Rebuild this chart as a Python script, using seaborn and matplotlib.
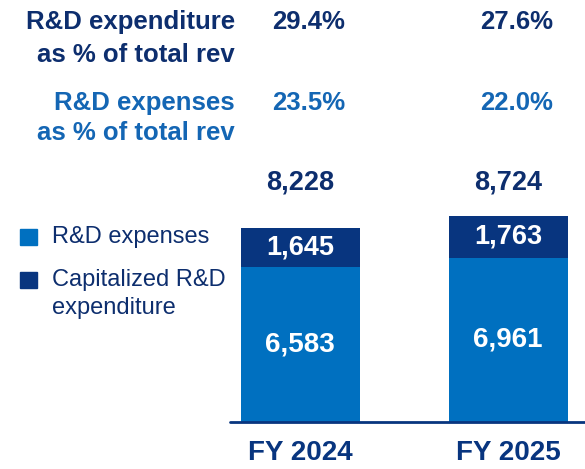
import matplotlib.pyplot as plt
import seaborn as sns
import pandas as pd

years = ['FY 2024', 'FY 2025']
rd_expenses = [6583, 6961]
capitalized = [1645, 1763]
totals = [8228, 8724]
expenditure_pct = ['29.4%', '27.6%']
expenses_pct = ['23.5%', '22.0%']

LIGHT = '#0070C0'
DARK = '#08357F'
NAVY_TXT = '#0D2E6E'
BLUE_TXT = '#1466B4'

sns.set_style('white')
plt.rcParams['font.family'] = ['Liberation Sans', 'DejaVu Sans']

df = pd.DataFrame({'year': years, 'expenses': rd_expenses, 'total': totals})

fig = plt.figure(figsize=(5.85, 4.69), dpi=100)
ax = fig.add_axes([230 / 585, 1 - 422 / 469, 355 / 585, 262 / 469])

bw = 0.572
sns.barplot(data=df, x='year', y='total', color=DARK, width=bw, ax=ax,
            saturation=1, linewidth=0)
sns.barplot(data=df, x='year', y='expenses', color=LIGHT, width=bw, ax=ax,
            saturation=1, linewidth=0)

ax.set_xlim(-0.337, 1.370)
ax.set_ylim(0, 11100)
ax.set_axis_off()
ax.axhline(0, color=DARK, lw=2, clip_on=False)

for i in range(len(years)):
    ax.text(i, rd_expenses[i] / 2, f'{rd_expenses[i]:,}', ha='center', va='center',
            color='white', fontsize=20, weight='bold')
    ax.text(i, rd_expenses[i] + capitalized[i] / 2, f'{capitalized[i]:,}', ha='center',
            va='center', color='white', fontsize=19.5, weight='bold')
    ax.annotate(f'{totals[i]:,}', xy=(i, 1 - 183 / 469), xycoords=('data', 'figure fraction'),
                ha='center', va='center', color=NAVY_TXT, fontsize=19.5, weight='bold')
    ax.annotate(years[i], xy=(i, 1 - 453 / 469), xycoords=('data', 'figure fraction'),
                ha='center', va='center', color=DARK, fontsize=20, weight='bold')
    ax.annotate(expenditure_pct[i], xy=(i + 0.04, 1 - 22 / 469),
                xycoords=('data', 'figure fraction'), ha='center', va='center',
                color=NAVY_TXT, fontsize=18.5, weight='bold')
    ax.annotate(expenses_pct[i], xy=(i + 0.04, 1 - 103 / 469),
                xycoords=('data', 'figure fraction'), ha='center', va='center',
                color=BLUE_TXT, fontsize=18.5, weight='bold')

# row labels
for txt, y, c in [('R&D expenditure', 22, NAVY_TXT), ('as % of total rev', 55, NAVY_TXT),
                  ('R&D expenses', 103, BLUE_TXT), ('as % of total rev', 133, BLUE_TXT)]:
    fig.text(235 / 585, 1 - y / 469, txt, ha='right', va='center', color=c,
             fontsize=18.5, weight='bold')

# legend
for y, c in [(237, LIGHT), (280, DARK)]:
    fig.patches.append(plt.Rectangle((20 / 585, 1 - (y + 8) / 469), 17 / 585, 16 / 469,
                                     transform=fig.transFigure, color=c))
fig.text(52 / 585, 1 - 237 / 469, 'R&D expenses', va='center', color=NAVY_TXT, fontsize=17)
fig.text(52 / 585, 1 - 280 / 469, 'Capitalized R&D', va='center', color=NAVY_TXT, fontsize=17)
fig.text(52 / 585, 1 - 308 / 469, 'expenditure', va='center', color=NAVY_TXT, fontsize=17)

fig.savefig('out.png', dpi=100)
